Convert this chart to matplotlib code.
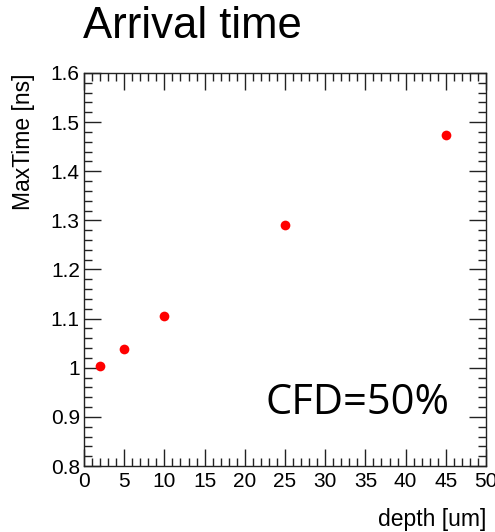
import matplotlib
matplotlib.use("Agg")
import matplotlib.pyplot as plt
from matplotlib import font_manager
from matplotlib.ticker import MultipleLocator, FuncFormatter

# data
depth = [2, 5, 10, 25, 45]
max_time = [1.003, 1.038, 1.105, 1.291, 1.473]

plt.rcParams['font.family'] = ['Liberation Sans', 'DejaVu Sans']

# tick labels in the reference are tall and narrow
names = {f.name for f in font_manager.fontManager.ttflist}
if 'Liberation Sans Narrow' in names:
    tick_font, tick_size = 'Liberation Sans Narrow', 17
else:
    tick_font, tick_size = 'Liberation Sans', 15

fig = plt.figure(figsize=(4.95, 5.32), dpi=100)
W, H = 495, 532
left, right, top, bottom = 84, 486, 73, 466
ax = fig.add_axes([left / W, 1 - bottom / H, (right - left) / W, (bottom - top) / H])

ax.plot(depth, max_time, 'o', color='#ff0000', markersize=7, markeredgewidth=0)

ax.set_xlim(0, 50)
ax.set_ylim(0.8, 1.6)
ax.xaxis.set_major_locator(MultipleLocator(5))
ax.xaxis.set_minor_locator(MultipleLocator(1))
ax.yaxis.set_major_locator(MultipleLocator(0.1))
ax.yaxis.set_minor_locator(MultipleLocator(0.02))

def yfmt(v, pos):
    s = f"{v:.1f}"
    return "1" if s == "1.0" else s

ax.yaxis.set_major_formatter(FuncFormatter(yfmt))

ax.tick_params(which='both', direction='in', top=True, right=True,
               width=1, colors='#222222', labelcolor='black')
ax.tick_params(which='major', length=12)
ax.tick_params(which='minor', length=6)
ax.tick_params(axis='y', pad=3)
ax.tick_params(axis='x', pad=4)
for lab in ax.get_xticklabels() + ax.get_yticklabels():
    lab.set_family(tick_font)
    lab.set_fontsize(tick_size)
for s in ax.spines.values():
    s.set_linewidth(1)
    s.set_color('#222222')

ax.set_ylabel("MaxTime [ns]", fontsize=16.5, loc='top')
ax.yaxis.set_label_coords(-0.122, 1.0)
ax.set_xlabel("depth [um]", fontsize=16.5, loc='right')
ax.xaxis.set_label_coords(1.0, -0.107)

fig.text(83 / W, 1 - 26 / H, "Arrival time", fontsize=31.5, ha='left', va='center')
ax.text((265 - left) / (right - left), 0.16, "CFD=50%",
        transform=ax.transAxes, fontsize=30, family=['Open Sans', 'DejaVu Sans'],
        ha='left', va='center')

fig.savefig("out.png", dpi=100)
